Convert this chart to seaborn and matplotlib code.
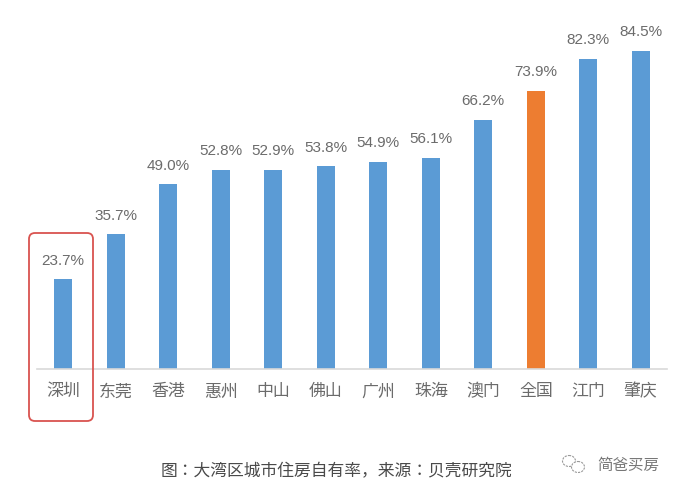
import seaborn as sns
import pandas as pd
import matplotlib.pyplot as plt
from matplotlib import font_manager
from matplotlib.patches import FancyBboxPatch, Ellipse

cities = ["深圳", "东莞", "香港", "惠州", "中山", "佛山", "广州", "珠海", "澳门", "全国", "江门", "肇庆"]
rates = [23.7, 35.7, 49.0, 52.8, 52.9, 53.8, 54.9, 56.1, 66.2, 73.9, 82.3, 84.5]
groups = ["city"] * 9 + ["national"] + ["city"] * 2
palette = {"city": "#5b9bd5", "national": "#ed7d31"}
caption = "图：大湾区城市住房自有率，来源：贝壳研究院"
watermark = "简爸买房"

W, H = 678, 494

# the ttc may only register one of the CJK names
installed = {f.name for f in font_manager.fontManager.ttflist}
cjk = [n for n in ["Noto Sans CJK SC", "Noto Sans CJK TC", "Noto Sans CJK JP", "Noto Sans CJK KR"] if n in installed]
cjk_files = [f.fname for f in font_manager.fontManager.ttflist if "CJK" in f.fname or "CJK" in f.name]
if not cjk and cjk_files:
    font_manager.fontManager.addfont(cjk_files[0])
    cjk = [font_manager.FontProperties(fname=cjk_files[0]).get_name()]
plt.rcParams["font.family"] = cjk + ["DejaVu Sans"]

df = pd.DataFrame({"city": cities, "rate": rates, "group": groups})

fig = plt.figure(figsize=(W / 100, H / 100), dpi=100)
ax = fig.add_axes([37 / W, 1 - 368.5 / H, 630 / W, 348.5 / H])

sns.barplot(data=df, x="city", y="rate", hue="group", palette=palette, dodge=False,
            width=0.34, legend=False, ax=ax, saturation=1)

ax.set_xlim(-0.5, 11.5)
ax.set_ylim(0, 92.76)
ax.set_xlabel("")
ax.set_ylabel("")
ax.set_yticks([])
ax.tick_params(axis="x", length=0, pad=10, labelsize=12.2, labelcolor="#6b6b6b")
sns.despine(ax=ax, left=True)
ax.spines["bottom"].set_color("#d9d9d9")
ax.spines["bottom"].set_linewidth(1.2)

# value labels
for i, v in enumerate(rates):
    ax.annotate(f"{v:.1f}%", (i, v), xytext=(0, 8.5), textcoords="offset points",
                ha="center", va="bottom", fontsize=11, color="#6b6b6b",
                fontfamily="Liberation Sans", annotation_clip=False)

# overlay in pixel coordinates of the picture
over = fig.add_axes([0, 0, 1, 1], zorder=5)
over.set_xlim(0, W)
over.set_ylim(H, 0)
over.axis("off")

over.add_patch(FancyBboxPatch((32, 236), 58, 182, boxstyle="round,pad=3,rounding_size=6",
                              fill=False, edgecolor="#d9534f", linewidth=1.3))

over.text(336, 472, caption, ha="center", va="center", fontsize=12.1, color="#4a4a4a")
over.text(628, 465, watermark, ha="center", va="center", fontsize=11.2, color="#777777")

# wechat style mark next to the watermark
over.add_patch(Ellipse((569, 461), 13, 11, fill=False, edgecolor="#999999", linewidth=0.8, linestyle=(0, (2, 1))))
over.add_patch(Ellipse((578, 467), 13, 11, facecolor="white", edgecolor="#999999", linewidth=0.8, linestyle=(0, (2, 1))))

fig.savefig("out.png", dpi=100)
